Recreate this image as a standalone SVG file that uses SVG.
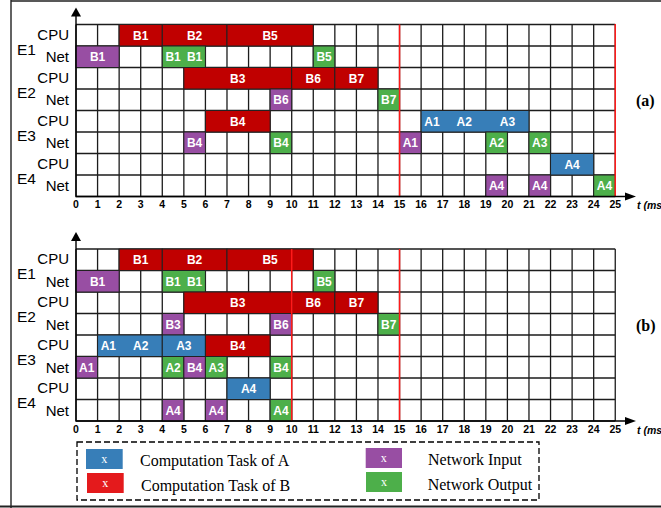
<svg xmlns="http://www.w3.org/2000/svg" width="661" height="508" viewBox="0 0 661 508">
  <style>
    .grid { fill: none; stroke: #1c1c1c; stroke-width: 1.3; }
    .axis { fill: none; stroke: #000; stroke-width: 1.4; }
    .head { fill: #000; }
    .limit { stroke: #ff1a1a; stroke-width: 1.5; }
    .bar { stroke: #222; stroke-width: 1; }
    .red { fill: #c00000; }
    .purple { fill: #984ea3; }
    .green { fill: #4daf4a; }
    .blue { fill: #377eb8; }
    .lbl { font-family: "Liberation Sans", Arial, sans-serif; font-weight: bold; font-size: 12px; fill: #fff; text-anchor: middle; }
    .row { font-family: "Liberation Sans", Arial, sans-serif; font-size: 15px; fill: #000; text-anchor: end; }
    .node-name { font-family: "Liberation Sans", Arial, sans-serif; font-size: 15.5px; fill: #000; }
    .num { font-family: "Liberation Sans", Arial, sans-serif; font-weight: bold; font-size: 10.5px; fill: #000; text-anchor: middle; }
    .unit { font-family: "Liberation Sans", Arial, sans-serif; font-weight: bold; font-style: italic; font-size: 10.5px; fill: #000; }
    .tag { font-family: "Liberation Serif", "Times New Roman", serif; font-weight: bold; font-size: 16px; fill: #000; }
    .leg { font-family: "Liberation Serif", "Times New Roman", serif; font-size: 16px; fill: #000; }
    .x { font-family: "Liberation Serif", "Times New Roman", serif; font-size: 12px; fill: #fff; text-anchor: middle; }
    .frame { stroke: #222; fill: none; }
  </style>
  <defs>
    <!-- shared time grid: 25 columns x 8 rows -->
    <path id="gridlines" class="grid" d="M76 24.5V196.5M97.57 24.5V196.5M119.14 24.5V196.5M140.71 24.5V196.5M162.28 24.5V196.5M183.85 24.5V196.5M205.42 24.5V196.5M226.99 24.5V196.5M248.56 24.5V196.5M270.13 24.5V196.5M291.7 24.5V196.5M313.27 24.5V196.5M334.84 24.5V196.5M356.41 24.5V196.5M377.98 24.5V196.5M399.55 24.5V196.5M421.12 24.5V196.5M442.69 24.5V196.5M464.26 24.5V196.5M485.83 24.5V196.5M507.4 24.5V196.5M528.97 24.5V196.5M550.54 24.5V196.5M572.11 24.5V196.5M593.68 24.5V196.5M615.25 24.5V196.5M76 24.5H615.25M76 46H615.25M76 67.5H615.25M76 89H615.25M76 110.5H615.25M76 132H615.25M76 153.5H615.25M76 175H615.25M76 196.5H615.25"/>
    <!-- axes with arrowheads -->
    <g id="axes">
      <path class="axis" d="M76 16V196.5H626"/>
      <polygon class="head" points="71,16.5 81,16.5 76,7.5"/>
      <polygon class="head" points="625,192.5 625,200.5 636,196.5"/>
    </g>
    <!-- row labels -->
    <g id="rowlabels">
      <text class="row" x="69" y="39.5">CPU</text>
      <text class="node-name" x="17" y="54.5">E1</text>
      <text class="row" x="69" y="62">Net</text>
      <text class="row" x="69" y="82.5">CPU</text>
      <text class="node-name" x="17" y="97.5">E2</text>
      <text class="row" x="69" y="105">Net</text>
      <text class="row" x="69" y="125.5">CPU</text>
      <text class="node-name" x="17" y="140.5">E3</text>
      <text class="row" x="69" y="148">Net</text>
      <text class="row" x="69" y="168.5">CPU</text>
      <text class="node-name" x="17" y="183.5">E4</text>
      <text class="row" x="69" y="191">Net</text>
    </g>
    <!-- time tick numbers -->
    <g id="ticks">
      <text class="num" x="76" y="208">0</text>
      <text class="num" x="97.57" y="208">1</text>
      <text class="num" x="119.14" y="208">2</text>
      <text class="num" x="140.71" y="208">3</text>
      <text class="num" x="162.28" y="208">4</text>
      <text class="num" x="183.85" y="208">5</text>
      <text class="num" x="205.42" y="208">6</text>
      <text class="num" x="226.99" y="208">7</text>
      <text class="num" x="248.56" y="208">8</text>
      <text class="num" x="270.13" y="208">9</text>
      <text class="num" x="291.7" y="208">10</text>
      <text class="num" x="313.27" y="208">11</text>
      <text class="num" x="334.84" y="208">12</text>
      <text class="num" x="356.41" y="208">13</text>
      <text class="num" x="377.98" y="208">14</text>
      <text class="num" x="399.55" y="208">15</text>
      <text class="num" x="421.12" y="208">16</text>
      <text class="num" x="442.69" y="208">17</text>
      <text class="num" x="464.26" y="208">18</text>
      <text class="num" x="485.83" y="208">19</text>
      <text class="num" x="507.4" y="208">20</text>
      <text class="num" x="528.97" y="208">21</text>
      <text class="num" x="550.54" y="208">22</text>
      <text class="num" x="572.11" y="208">23</text>
      <text class="num" x="593.68" y="208">24</text>
      <text class="num" x="615.25" y="208">25</text>
      <text class="unit" x="637" y="209">t (ms</text>
    </g>
  </defs>

  <!-- outer frame -->
  <path class="frame" stroke-width="1.4" d="M11 0V508M11 1H661"/>
  <path class="frame" stroke-width="2.2" stroke="#333" d="M0 506.5H661"/>

  <!-- (a) schedule -->
  <g id="chart-a">
    <use href="#gridlines"/>
    <g id="a-e1-cpu-b1"><rect class="bar red" x="119.14" y="24.5" width="43.14" height="21.5"/><text class="lbl" x="140.71" y="39.5">B1</text></g>
    <g id="a-e1-cpu-b2"><rect class="bar red" x="162.28" y="24.5" width="64.71" height="21.5"/><text class="lbl" x="194.63" y="39.5">B2</text></g>
    <g id="a-e1-cpu-b5"><rect class="bar red" x="226.99" y="24.5" width="86.28" height="21.5"/><text class="lbl" x="270.13" y="39.5">B5</text></g>
    <g id="a-e1-net-b1-in"><rect class="bar purple" x="76" y="46" width="43.14" height="21.5"/><text class="lbl" x="97.57" y="61">B1</text></g>
    <g id="a-e1-net-b1-out"><rect class="bar green" x="162.28" y="46" width="43.14" height="21.5"/><text class="lbl" x="173.07" y="61">B1</text><text class="lbl" x="194.64" y="61">B1</text></g>
    <g id="a-e1-net-b5-out"><rect class="bar green" x="313.27" y="46" width="21.57" height="21.5"/><text class="lbl" x="324.05" y="61">B5</text></g>
    <g id="a-e2-cpu-b3"><rect class="bar red" x="183.85" y="67.5" width="107.85" height="21.5"/><text class="lbl" x="237.78" y="82.5">B3</text></g>
    <g id="a-e2-cpu-b6"><rect class="bar red" x="291.7" y="67.5" width="43.14" height="21.5"/><text class="lbl" x="313.27" y="82.5">B6</text></g>
    <g id="a-e2-cpu-b7"><rect class="bar red" x="334.84" y="67.5" width="43.14" height="21.5"/><text class="lbl" x="356.41" y="82.5">B7</text></g>
    <g id="a-e2-net-b6-in"><rect class="bar purple" x="270.13" y="89" width="21.57" height="21.5"/><text class="lbl" x="280.92" y="104">B6</text></g>
    <g id="a-e2-net-b7-out"><rect class="bar green" x="377.98" y="89" width="21.57" height="21.5"/><text class="lbl" x="388.77" y="104">B7</text></g>
    <g id="a-e3-cpu-b4"><rect class="bar red" x="205.42" y="110.5" width="64.71" height="21.5"/><text class="lbl" x="237.78" y="125.5">B4</text></g>
    <g id="a-e3-cpu-a123"><rect class="bar blue" x="421.12" y="110.5" width="107.85" height="21.5"/><text class="lbl" x="431.9" y="125.5">A1</text><text class="lbl" x="464.26" y="125.5">A2</text><text class="lbl" x="507.4" y="125.5">A3</text></g>
    <g id="a-e3-net-b4-in"><rect class="bar purple" x="183.85" y="132" width="21.57" height="21.5"/><text class="lbl" x="194.64" y="147">B4</text></g>
    <g id="a-e3-net-b4-out"><rect class="bar green" x="270.13" y="132" width="21.57" height="21.5"/><text class="lbl" x="280.92" y="147">B4</text></g>
    <g id="a-e3-net-a1-in"><rect class="bar purple" x="399.55" y="132" width="21.57" height="21.5"/><text class="lbl" x="410.34" y="147">A1</text></g>
    <g id="a-e3-net-a2-out"><rect class="bar green" x="485.83" y="132" width="21.57" height="21.5"/><text class="lbl" x="496.62" y="147">A2</text></g>
    <g id="a-e3-net-a3-out"><rect class="bar green" x="528.97" y="132" width="21.57" height="21.5"/><text class="lbl" x="539.76" y="147">A3</text></g>
    <g id="a-e4-cpu-a4"><rect class="bar blue" x="550.54" y="153.5" width="43.14" height="21.5"/><text class="lbl" x="572.11" y="168.5">A4</text></g>
    <g id="a-e4-net-a4-in1"><rect class="bar purple" x="485.83" y="175" width="21.57" height="21.5"/><text class="lbl" x="496.62" y="190">A4</text></g>
    <g id="a-e4-net-a4-in2"><rect class="bar purple" x="528.97" y="175" width="21.57" height="21.5"/><text class="lbl" x="539.76" y="190">A4</text></g>
    <g id="a-e4-net-a4-out"><rect class="bar green" x="593.68" y="175" width="21.57" height="21.5"/><text class="lbl" x="604.47" y="190">A4</text></g>
    <path class="limit" d="M399.55 24.5V196.5M615.25 24V196.5"/>
    <use href="#axes"/>
    <use href="#rowlabels"/>
    <use href="#ticks"/>
    <text class="tag" x="636" y="106">(a)</text>
  </g>

  <!-- (b) schedule -->
  <g id="chart-b" transform="translate(0,224.5)">
    <use href="#gridlines"/>
    <g id="b-e1-cpu-b1"><rect class="bar red" x="119.14" y="24.5" width="43.14" height="21.5"/><text class="lbl" x="140.71" y="39.5">B1</text></g>
    <g id="b-e1-cpu-b2"><rect class="bar red" x="162.28" y="24.5" width="64.71" height="21.5"/><text class="lbl" x="194.63" y="39.5">B2</text></g>
    <g id="b-e1-cpu-b5"><rect class="bar red" x="226.99" y="24.5" width="86.28" height="21.5"/><text class="lbl" x="270.13" y="39.5">B5</text></g>
    <g id="b-e1-net-b1-in"><rect class="bar purple" x="76" y="46" width="43.14" height="21.5"/><text class="lbl" x="97.57" y="61">B1</text></g>
    <g id="b-e1-net-b1-out"><rect class="bar green" x="162.28" y="46" width="43.14" height="21.5"/><text class="lbl" x="173.07" y="61">B1</text><text class="lbl" x="194.64" y="61">B1</text></g>
    <g id="b-e1-net-b5-out"><rect class="bar green" x="313.27" y="46" width="21.57" height="21.5"/><text class="lbl" x="324.05" y="61">B5</text></g>
    <g id="b-e2-cpu-b3"><rect class="bar red" x="183.85" y="67.5" width="107.85" height="21.5"/><text class="lbl" x="237.78" y="82.5">B3</text></g>
    <g id="b-e2-cpu-b6"><rect class="bar red" x="291.7" y="67.5" width="43.14" height="21.5"/><text class="lbl" x="313.27" y="82.5">B6</text></g>
    <g id="b-e2-cpu-b7"><rect class="bar red" x="334.84" y="67.5" width="43.14" height="21.5"/><text class="lbl" x="356.41" y="82.5">B7</text></g>
    <g id="b-e2-net-b3-in"><rect class="bar purple" x="162.28" y="89" width="21.57" height="21.5"/><text class="lbl" x="173.07" y="104">B3</text></g>
    <g id="b-e2-net-b6-in"><rect class="bar purple" x="270.13" y="89" width="21.57" height="21.5"/><text class="lbl" x="280.92" y="104">B6</text></g>
    <g id="b-e2-net-b7-out"><rect class="bar green" x="377.98" y="89" width="21.57" height="21.5"/><text class="lbl" x="388.77" y="104">B7</text></g>
    <g id="b-e3-cpu-a12"><rect class="bar blue" x="97.57" y="110.5" width="64.71" height="21.5"/><text class="lbl" x="108.36" y="125.5">A1</text><text class="lbl" x="140.71" y="125.5">A2</text></g>
    <g id="b-e3-cpu-a3"><rect class="bar blue" x="162.28" y="110.5" width="43.14" height="21.5"/><text class="lbl" x="183.85" y="125.5">A3</text></g>
    <g id="b-e3-cpu-b4"><rect class="bar red" x="205.42" y="110.5" width="64.71" height="21.5"/><text class="lbl" x="237.78" y="125.5">B4</text></g>
    <g id="b-e3-net-a1-in"><rect class="bar purple" x="76" y="132" width="21.57" height="21.5"/><text class="lbl" x="86.79" y="147">A1</text></g>
    <g id="b-e3-net-a2-out"><rect class="bar green" x="162.28" y="132" width="21.57" height="21.5"/><text class="lbl" x="173.07" y="147">A2</text></g>
    <g id="b-e3-net-b4-in"><rect class="bar purple" x="183.85" y="132" width="21.57" height="21.5"/><text class="lbl" x="194.64" y="147">B4</text></g>
    <g id="b-e3-net-a3-out"><rect class="bar green" x="205.42" y="132" width="21.57" height="21.5"/><text class="lbl" x="216.21" y="147">A3</text></g>
    <g id="b-e3-net-b4-out"><rect class="bar green" x="270.13" y="132" width="21.57" height="21.5"/><text class="lbl" x="280.92" y="147">B4</text></g>
    <g id="b-e4-cpu-a4"><rect class="bar blue" x="226.99" y="153.5" width="43.14" height="21.5"/><text class="lbl" x="248.56" y="168.5">A4</text></g>
    <g id="b-e4-net-a4-in1"><rect class="bar purple" x="162.28" y="175" width="21.57" height="21.5"/><text class="lbl" x="173.07" y="190">A4</text></g>
    <g id="b-e4-net-a4-in2"><rect class="bar purple" x="205.42" y="175" width="21.57" height="21.5"/><text class="lbl" x="216.21" y="190">A4</text></g>
    <g id="b-e4-net-a4-out"><rect class="bar green" x="270.13" y="175" width="21.57" height="21.5"/><text class="lbl" x="280.92" y="190">A4</text></g>
    <path class="limit" d="M291.7 24.5V196.5M399.55 24.5V196.5"/>
    <use href="#axes"/>
    <use href="#rowlabels"/>
    <use href="#ticks"/>
    <text class="tag" x="636" y="106">(b)</text>
  </g>

  <!-- legend -->
  <g id="legend">
    <rect x="77" y="442" width="462" height="58" fill="none" stroke="#000" stroke-width="1.3" stroke-dasharray="6,3"/>
    <g id="legend-a"><rect x="86" y="449" width="36.7" height="20" fill="#377eb8"/><text class="x" x="104.3" y="463">x</text><text class="leg" x="140" y="466">Computation Task of A</text></g>
    <g id="legend-b"><rect x="87" y="473" width="36.7" height="20" fill="#e41a1c"/><text class="x" x="105.3" y="487">x</text><text class="leg" x="141" y="491">Computation Task of B</text></g>
    <g id="legend-in"><rect x="365.7" y="448" width="36.3" height="20" fill="#984ea3"/><text class="x" x="383.8" y="462">x</text><text class="leg" x="428" y="465">Network Input</text></g>
    <g id="legend-out"><rect x="366" y="472" width="36" height="20" fill="#4daf4a"/><text class="x" x="384" y="486">x</text><text class="leg" x="427.7" y="490">Network Output</text></g>
  </g>
</svg>
